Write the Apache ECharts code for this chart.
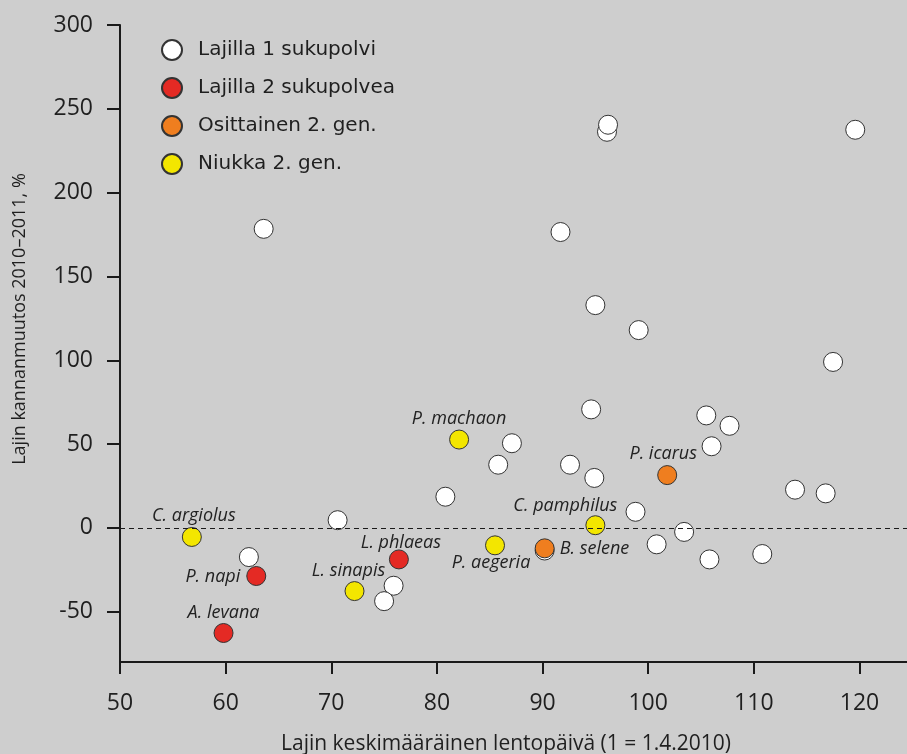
<!DOCTYPE html>
<html>
<head>
<meta charset="utf-8">
<title>Lajin kannanmuutos</title>
<script src="https://cdn.jsdelivr.net/npm/echarts@6/dist/echarts.min.js"></script>
<style>
  html, body { margin: 0; padding: 0; background: #cecece; }
  #chart { width: 907px; height: 754px; }
</style>
</head>
<body>
<div id="chart"></div>
<script>
// Species with one generation (unlabelled white dots)
const oneGenX = [63.6, 91.7, 96.1, 96.2, 119.6, 95.0, 99.1, 117.5, 94.6, 87.1,
                 85.8, 92.6, 94.9, 105.5, 107.7, 106.0, 113.9, 116.8, 98.8, 103.4,
                 100.8, 105.8, 110.8, 90.2, 80.8, 70.6, 62.2, 75.9, 75.0];
const oneGenY = [178.4, 176.5, 236.3, 240.5, 237.5, 132.9, 118.0, 99.0, 70.7, 50.5,
                 37.7, 37.7, 29.8, 67.1, 60.9, 48.7, 22.8, 20.6, 9.6, -2.4,
                 -9.8, -18.8, -15.6, -13.5, 18.6, 4.6, -17.4, -34.5, -43.7];

// Species with two generations
const twoGenNames = ['P. napi', 'A. levana', 'L. phlaeas'];
const twoGenX = [62.9, 59.8, 76.4];
const twoGenY = [-28.7, -62.7, -18.8];

// Partial second generation
const partialNames = ['P. icarus', 'B. selene'];
const partialX = [101.8, 90.2];
const partialY = [31.5, -12.2];

// Scarce second generation
const scarceNames = ['P. machaon', 'C. argiolus', 'L. sinapis', 'P. aegeria', 'C. pamphilus'];
const scarceX = [82.1, 56.8, 72.2, 85.5, 95.0];
const scarceY = [52.7, -5.4, -37.7, -10.4, 1.6];

const seriesNames = ['Lajilla 1 sukupolvi', 'Lajilla 2 sukupolvea', 'Osittainen 2. gen.', 'Niukka 2. gen.'];
const xTicks = [50, 60, 70, 80, 90, 100, 110, 120];
const yTicks = [-50, 0, 50, 100, 150, 200, 250, 300];

// Where each species name sits around its dot
const labelPlacement = {
  'P. machaon':   { position: 'top', distance: 2, offset: [0, 0] },
  'C. argiolus':  { position: 'top', distance: 2, offset: [2, 0] },
  'A. levana':    { position: 'top', distance: 1, offset: [0, 0] },
  'L. sinapis':   { position: 'top', distance: 1, offset: [-6, 0] },
  'L. phlaeas':   { position: 'top', distance: 1, offset: [2, 3] },
  'P. icarus':    { position: 'top', distance: 2, offset: [-4, 0] },
  'C. pamphilus': { position: 'top', distance: 2, offset: [-30, 2] },
  'P. napi':      { position: 'left', distance: 6, offset: [0, 1] },
  'B. selene':    { position: 'right', distance: 5, offset: [0, 1] },
  'P. aegeria':   { position: 'bottom', distance: 0, offset: [-4, -1] }
};

const textColor = '#1f1f1f';
const axisColor = '#1a1a1a';

function named(names, xs, ys) {
  return names.map((n, i) => {
    const p = labelPlacement[n];
    return {
      name: n,
      value: [xs[i], ys[i]],
      label: {
        show: true,
        formatter: '{b}',
        position: p.position,
        distance: p.distance,
        offset: p.offset
      }
    };
  });
}

function pointSeries(name, color, data, extra) {
  return Object.assign({
    name: name,
    type: 'scatter',
    symbol: 'circle',
    symbolSize: 19,
    data: data,
    itemStyle: { color: color, borderColor: '#333333', borderWidth: 1, opacity: 1 },
    label: {
      fontFamily: 'Open Sans',
      fontStyle: 'italic',
      fontSize: 18,
      color: '#222222'
    },
    emphasis: { disabled: true },
    z: 3
  }, extra || {});
}

const chart = echarts.init(document.getElementById('chart'), null, { renderer: 'canvas' });

chart.setOption({
  animation: false,
  backgroundColor: '#cecece',
  grid: { left: 120, right: 0, top: 25, bottom: 92 },
  legend: {
    orient: 'vertical',
    left: 156,
    top: 34,
    icon: 'circle',
    itemWidth: 20,
    itemHeight: 20,
    itemGap: 16,
    selectedMode: false,
    data: seriesNames,
    textStyle: {
      fontFamily: 'DejaVu Sans',
      fontSize: 20,
      color: textColor,
      padding: [0, 0, 0, 11]
    }
  },
  xAxis: {
    type: 'value',
    min: 50,
    max: 124.5,
    axisLine: { show: true, onZero: false, lineStyle: { color: axisColor, width: 2 } },
    axisTick: { show: true, length: 12, customValues: xTicks, lineStyle: { color: axisColor, width: 2 } },
    axisLabel: {
      customValues: xTicks,
      margin: 30,
      fontFamily: 'Open Sans',
      fontSize: 23,
      color: textColor
    },
    splitLine: { show: false }
  },
  yAxis: {
    type: 'value',
    min: -80,
    max: 300,
    axisLine: { show: true, onZero: false, lineStyle: { color: axisColor, width: 2 } },
    axisTick: { show: true, length: 13, customValues: yTicks, lineStyle: { color: axisColor, width: 2 } },
    axisLabel: {
      customValues: yTicks,
      margin: 27,
      fontFamily: 'Open Sans',
      fontSize: 23,
      color: textColor
    },
    splitLine: { show: false }
  },
  graphic: [
    {
      type: 'text',
      x: 506,
      y: 744,
      style: {
        text: 'Lajin keskimääräinen lentopäivä (1 = 1.4.2010)',
        fontFamily: 'Open Sans',
        fontSize: 21,
        fill: textColor,
        align: 'center',
        verticalAlign: 'middle'
      }
    },
    {
      type: 'text',
      x: 20,
      y: 319,
      rotation: Math.PI / 2,
      style: {
        text: 'Lajin kannanmuutos 2010–2011, %',
        fontFamily: 'Open Sans',
        fontSize: 18,
        fill: textColor,
        align: 'center',
        verticalAlign: 'middle'
      }
    }
  ],
  series: [
    pointSeries(seriesNames[0], '#ffffff', oneGenX.map((x, i) => [x, oneGenY[i]]), {
      z: 2,
      markLine: {
        silent: true,
        symbol: 'none',
        label: { show: false },
        lineStyle: { color: axisColor, width: 1, type: [5, 4] },
        data: [{ yAxis: 0 }]
      }
    }),
    pointSeries(seriesNames[1], '#e42a24', named(twoGenNames, twoGenX, twoGenY)),
    pointSeries(seriesNames[2], '#ef7e1f', named(partialNames, partialX, partialY)),
    pointSeries(seriesNames[3], '#f3e600', named(scarceNames, scarceX, scarceY))
  ]
});
</script>
</body>
</html>
